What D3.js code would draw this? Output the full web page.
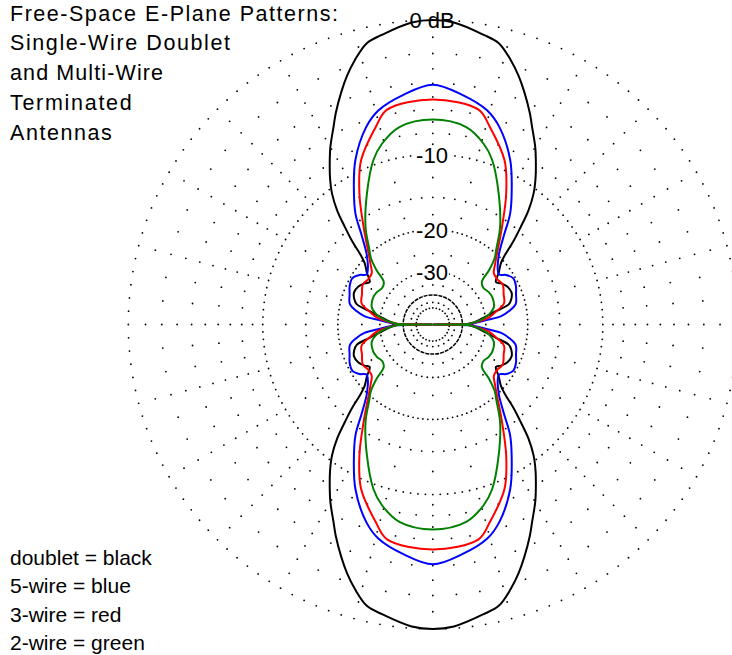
<!DOCTYPE html>
<html><head><meta charset="utf-8">
<script src="https://cdn.jsdelivr.net/npm/d3@7"></script>
<style>body{margin:0;background:#fff}svg{display:block}</style>
</head><body>
<svg id="chart" width="732" height="655"></svg>
<script>
// ---------------- DATA ----------------
const titleLines = ["Free-Space E-Plane Patterns:", "Single-Wire Doublet", "and Multi-Wire", "Terminated", "Antennas"];
const legendLines = ["doublet = black", "5-wire = blue", "3-wire = red", "2-wire = green"];
const ringLabelDb = [0, -10, -20, -30];
const ringLabelText = ["0 dB", "-10", "-20", "-30"];
const seriesNames = ["doublet", "5-wire", "3-wire", "2-wire"];
// quadrant samples: [elevation angle from the horizontal axis (deg), relative gain (dB)]
const doubletDb = [[90,0],[86,-0.1],[80,-0.6],[76.8,-0.9],[73.6,-1.7],[71,-2.5],[68.5,-3.4],[65.4,-4.6],[63.3,-5.5],[60,-6.8],[58,-7.7],[55,-9.1],[52.4,-10.5],[50,-12.3],[48,-14.4],[46,-16.5],[44,-19.0],[42,-20.6],[38,-22.2],[34,-23.8],[31,-23.0],[27,-22.2],[22,-21.9],[18,-22.4],[15,-23.2],[12,-26.5],[8.5,-29.9],[5,-32.5],[2,-35.5],[1,-37],[0,-100]];
const wire5Db = [[90,-4.1],[82.7,-4.7],[75.8,-5.5],[71.4,-6.5],[64.8,-8.85],[59,-11.8],[55,-14.0],[51.5,-16.8],[47,-19.6],[44,-20.8],[41,-21.7],[37,-22.3],[34,-21.2],[30,-20.4],[25,-20.6],[20,-21.2],[14,-21.8],[10,-23.5],[7,-25.5],[4.5,-30],[2,-34],[1,-36],[0,-100]];
const wire3Db = [[90,-5.2],[78,-5.6],[74,-6.7],[66.4,-9.1],[60.8,-12.1],[54.7,-16.0],[48,-19.8],[44,-21.6],[40,-23.0],[35,-23.2],[30,-22.8],[23,-23.6],[16.6,-24.2],[11.5,-26.7],[7,-29],[5,-31],[2,-35],[1,-37],[0,-100]];
const wire2Db = [[90,-6.8],[80.4,-7.2],[74.3,-8.3],[70.2,-9.5],[63.4,-12.5],[55.4,-16.2],[50,-19.3],[47,-20.8],[44,-23.3],[41,-26.5],[36,-27.2],[30,-26.6],[24,-26.4],[16,-26.9],[10,-28.8],[5,-32],[2,-35.5],[1,-37],[0,-100]];
// grid definition (dB levels)
const dottedRingDb = [0, -10, -20, -30, -50];
const solidRingDb = [-40];
const majorSpokeDb = [-1,-2,-3,-4,-5,-6,-7,-8,-9,-12.5,-15,-17.5,-25,-35,-45];
const minorSpokeDb = [-2,-4,-6,-8,-15];

// ---------------- LAYOUT ----------------
const W = 732, H = 655;
const cx = 432.8, cy = 324.5, R = 304.5;
const ringStep = {"0":2.5, "-10":2.5, "-20":3, "-30":6, "-50":12};
const colors = ["#000000", "#0000ff", "#ff0000", "#008000"];
const font = "'Liberation Sans', Arial, sans-serif";

const svg = d3.select("#chart");
svg.append("rect").attr("width", W).attr("height", H).attr("fill", "#fff");

// ARRL log-periodic radial scale: radius shrinks by 0.89 per 2 dB
const rLog = d3.scaleLinear().domain([0, -10]).range([Math.log(R), Math.log(R * Math.pow(0.89, 5))]);
const rad = db => db <= -90 ? 0 : Math.exp(rLog(db));
const toRad = d => d * Math.PI / 180;
const pt = (t, r) => [r * Math.sin(toRad(t)), -r * Math.cos(toRad(t))];

const g = svg.append("g").attr("transform", `translate(${cx},${cy})`);

// dotted grid
const dots = [];
dottedRingDb.forEach(db => d3.range(0, 360, ringStep[String(db)]).forEach(t => dots.push(pt(t, rad(db)))));
d3.range(0, 360, 5).forEach(a => (a % 15 === 0 ? majorSpokeDb : minorSpokeDb).forEach(db => dots.push(pt(a, rad(db)))));
g.append("g").selectAll("circle").data(dots).join("circle")
  .attr("cx", d => d[0]).attr("cy", d => d[1]).attr("r", 0.9).attr("fill", "#000");

g.selectAll("circle.solid").data(solidRingDb).join("circle")
  .attr("r", d => rad(d)).attr("fill", "none").attr("stroke", "#000")
  .attr("stroke-width", 1.5).attr("stroke-dasharray", "4,1");

// ring labels with white background
const lab = g.selectAll("g.lab").data(ringLabelDb).join("g");
lab.append("text")
  .attr("x", -0.8).attr("y", d => -rad(d) + 8.3)
  .attr("text-anchor", "middle").attr("font-family", font).attr("font-size", 22)
  .attr("fill", "#000").text((d, i) => ringLabelText[i]);
lab.each(function() {
  const t = d3.select(this).select("text");
  const b = t.node().getBBox();
  d3.select(this).insert("rect", "text").attr("x", b.x - 1).attr("y", b.y + 3)
    .attr("width", b.width + 2).attr("height", b.height - 6).attr("fill", "#fff");
});

// patterns (mirror one quadrant into the full circle)
const full = q => {
  const desc = q, asc = q.slice().reverse();
  return [].concat(
    desc.map(d => ({t: 90 - d[0], db: d[1]})),
    asc.slice(1).map(d => ({t: 90 + d[0], db: d[1]})),
    desc.slice(1).map(d => ({t: 270 - d[0], db: d[1]})),
    asc.slice(1, -1).map(d => ({t: 270 + d[0], db: d[1]}))
  );
};
const line = d3.lineRadial().angle(d => toRad(d.t)).radius(d => rad(d.db)).curve(d3.curveCatmullRomClosed.alpha(0.5));
const series = [doubletDb, wire5Db, wire3Db, wire2Db];
g.selectAll("path.pat").data(series).join("path")
  .attr("d", d => line(full(d))).attr("fill", "none")
  .attr("stroke", (d, i) => colors[i]).attr("stroke-width", 2).attr("stroke-linejoin", "round");

// title
const tl = [328, 220, 153, 121.7, 101.7];
svg.selectAll("text.title").data(titleLines).join("text")
  .attr("x", 10).attr("y", (d, i) => 20.5 + i * 29.8)
  .attr("font-family", font).attr("font-size", 21.5).attr("fill", "#000")
  .attr("textLength", (d, i) => tl[i]).attr("lengthAdjust", "spacing").text(d => d);

// legend
svg.selectAll("text.leg").data(legendLines).join("text")
  .attr("x", 10).attr("y", (d, i) => 565 + i * 28.4)
  .attr("font-family", font).attr("font-size", 21).attr("fill", "#000").text(d => d);
</script>
</body></html>
